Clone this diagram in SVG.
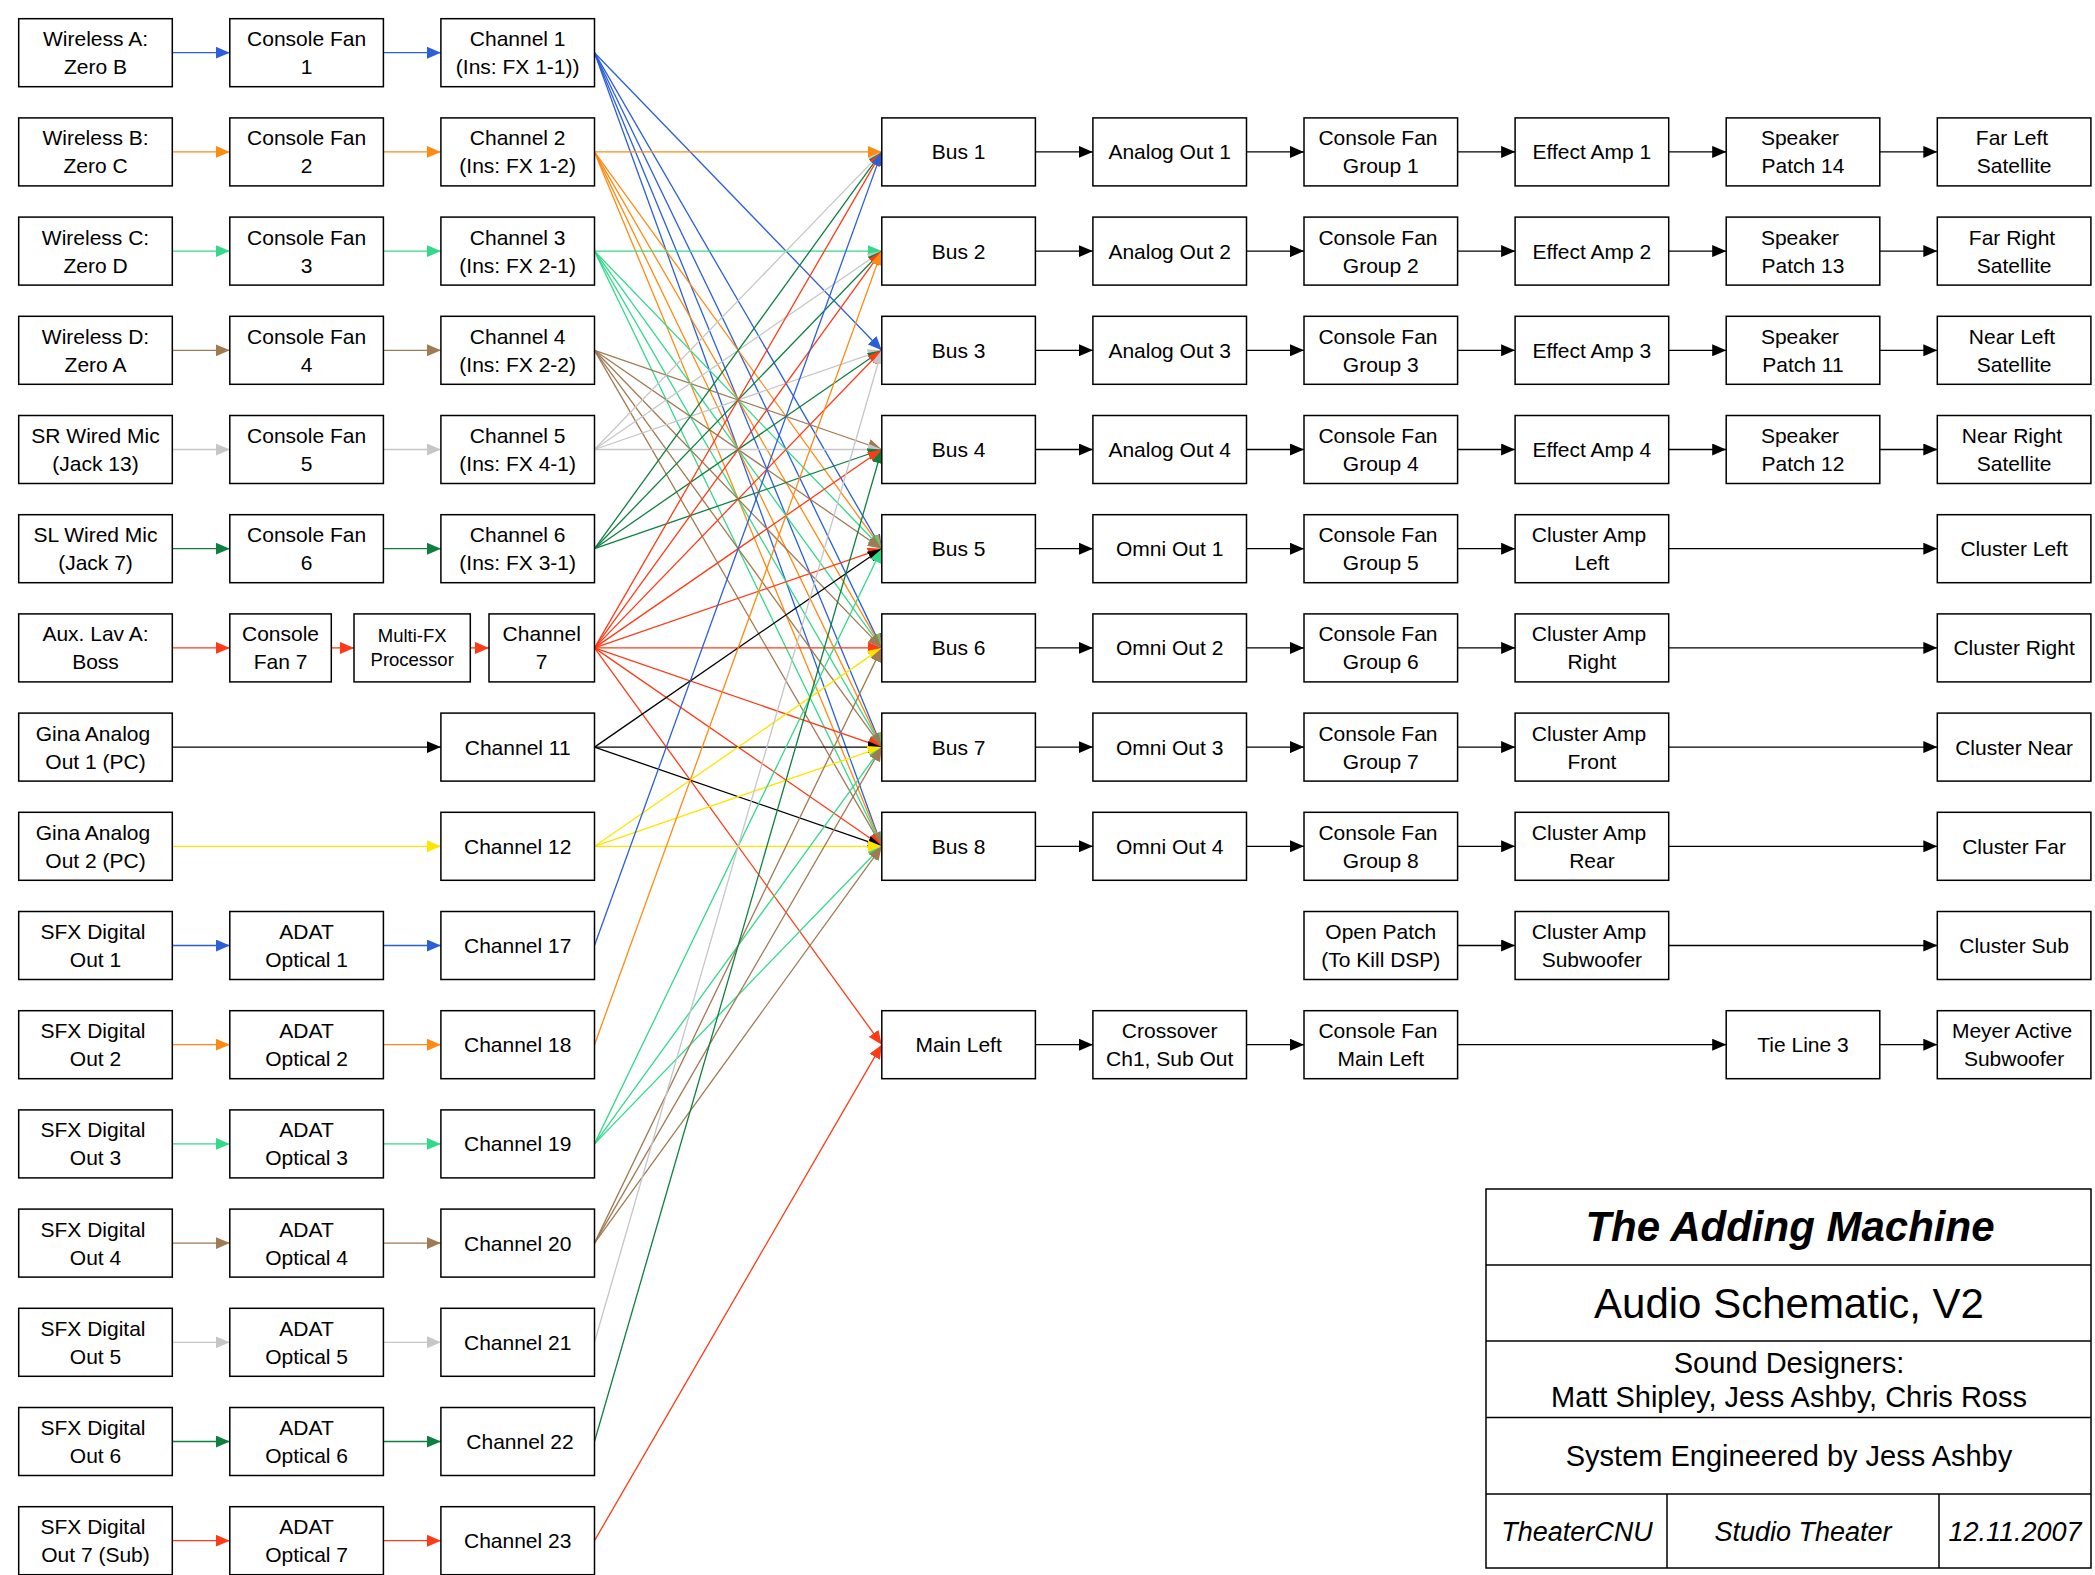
<svg xmlns="http://www.w3.org/2000/svg" width="2095" height="1575" viewBox="0 0 2095 1575">
<style>
.n rect{fill:#fff;stroke:#000;stroke-width:1.5}
.n text{font-family:"Liberation Sans",Arial,sans-serif;font-size:21px;text-anchor:middle;fill:#000}
.n text.s{font-size:18.5px}
.c line{stroke-width:1.3;fill:none}
.bl{stroke:#2B5FD9;marker-end:url(#a-bl)}
.or{stroke:#FF8A12;marker-end:url(#a-or)}
.lg{stroke:#33D98A;marker-end:url(#a-lg)}
.br{stroke:#A07A52;marker-end:url(#a-br)}
.gy{stroke:#C6C6C6;marker-end:url(#a-gy)}
.dg{stroke:#0F7F40;marker-end:url(#a-dg)}
.rd{stroke:#FF3A16;marker-end:url(#a-rd)}
.bk{stroke:#000;marker-end:url(#a-bk)}
.ye{stroke:#FFE400;marker-end:url(#a-ye)}
.tb rect,.tb line{fill:none;stroke:#000;stroke-width:1.5}
.tb text{font-family:"Liberation Sans",Arial,sans-serif;text-anchor:middle;fill:#000}
</style>
<defs>
<marker id="a-bl" markerUnits="userSpaceOnUse" markerWidth="14" markerHeight="12" refX="14" refY="6" orient="auto"><path d="M0,0L14,6L0,12z" fill="#2B5FD9"/></marker>
<marker id="a-or" markerUnits="userSpaceOnUse" markerWidth="14" markerHeight="12" refX="14" refY="6" orient="auto"><path d="M0,0L14,6L0,12z" fill="#FF8A12"/></marker>
<marker id="a-lg" markerUnits="userSpaceOnUse" markerWidth="14" markerHeight="12" refX="14" refY="6" orient="auto"><path d="M0,0L14,6L0,12z" fill="#33D98A"/></marker>
<marker id="a-br" markerUnits="userSpaceOnUse" markerWidth="14" markerHeight="12" refX="14" refY="6" orient="auto"><path d="M0,0L14,6L0,12z" fill="#A07A52"/></marker>
<marker id="a-gy" markerUnits="userSpaceOnUse" markerWidth="14" markerHeight="12" refX="14" refY="6" orient="auto"><path d="M0,0L14,6L0,12z" fill="#C6C6C6"/></marker>
<marker id="a-dg" markerUnits="userSpaceOnUse" markerWidth="14" markerHeight="12" refX="14" refY="6" orient="auto"><path d="M0,0L14,6L0,12z" fill="#0F7F40"/></marker>
<marker id="a-rd" markerUnits="userSpaceOnUse" markerWidth="14" markerHeight="12" refX="14" refY="6" orient="auto"><path d="M0,0L14,6L0,12z" fill="#FF3A16"/></marker>
<marker id="a-bk" markerUnits="userSpaceOnUse" markerWidth="14" markerHeight="12" refX="14" refY="6" orient="auto"><path d="M0,0L14,6L0,12z" fill="#000"/></marker>
<marker id="a-ye" markerUnits="userSpaceOnUse" markerWidth="14" markerHeight="12" refX="14" refY="6" orient="auto"><path d="M0,0L14,6L0,12z" fill="#FFE400"/></marker>
</defs>
<rect width="2095" height="1575" fill="#fff"/>

<g id="connectors" class="c">
<!-- sources to fans -->
<line class="bl" x1="172.3" y1="52.7" x2="229.8" y2="52.7"/>
<line class="bl" x1="383.4" y1="52.7" x2="440.9" y2="52.7"/>
<line class="or" x1="172.3" y1="151.9" x2="229.8" y2="151.9"/>
<line class="or" x1="383.4" y1="151.9" x2="440.9" y2="151.9"/>
<line class="lg" x1="172.3" y1="251.1" x2="229.8" y2="251.1"/>
<line class="lg" x1="383.4" y1="251.1" x2="440.9" y2="251.1"/>
<line class="br" x1="172.3" y1="350.3" x2="229.8" y2="350.3"/>
<line class="br" x1="383.4" y1="350.3" x2="440.9" y2="350.3"/>
<line class="gy" x1="172.3" y1="449.5" x2="229.8" y2="449.5"/>
<line class="gy" x1="383.4" y1="449.5" x2="440.9" y2="449.5"/>
<line class="dg" x1="172.3" y1="548.7" x2="229.8" y2="548.7"/>
<line class="dg" x1="383.4" y1="548.7" x2="440.9" y2="548.7"/>
<line class="rd" x1="172.3" y1="647.9" x2="229.8" y2="647.9"/>
<line class="rd" x1="331.3" y1="647.9" x2="354" y2="647.9"/>
<line class="rd" x1="470.3" y1="647.9" x2="489" y2="647.9"/>
<line class="bk" x1="172.3" y1="747.1" x2="440.9" y2="747.1"/>
<line class="ye" x1="172.3" y1="846.3" x2="440.9" y2="846.3"/>
<line class="bl" x1="172.3" y1="945.5" x2="229.8" y2="945.5"/>
<line class="bl" x1="383.4" y1="945.5" x2="440.9" y2="945.5"/>
<line class="or" x1="172.3" y1="1044.7" x2="229.8" y2="1044.7"/>
<line class="or" x1="383.4" y1="1044.7" x2="440.9" y2="1044.7"/>
<line class="lg" x1="172.3" y1="1143.9" x2="229.8" y2="1143.9"/>
<line class="lg" x1="383.4" y1="1143.9" x2="440.9" y2="1143.9"/>
<line class="br" x1="172.3" y1="1243.1" x2="229.8" y2="1243.1"/>
<line class="br" x1="383.4" y1="1243.1" x2="440.9" y2="1243.1"/>
<line class="gy" x1="172.3" y1="1342.3" x2="229.8" y2="1342.3"/>
<line class="gy" x1="383.4" y1="1342.3" x2="440.9" y2="1342.3"/>
<line class="dg" x1="172.3" y1="1441.5" x2="229.8" y2="1441.5"/>
<line class="dg" x1="383.4" y1="1441.5" x2="440.9" y2="1441.5"/>
<line class="rd" x1="172.3" y1="1540.7" x2="229.8" y2="1540.7"/>
<line class="rd" x1="383.4" y1="1540.7" x2="440.9" y2="1540.7"/>
<!-- channels to buses -->
<line class="bl" x1="594.5" y1="52.7" x2="881.8" y2="350.3"/>
<line class="bl" x1="594.5" y1="52.7" x2="881.8" y2="548.7"/>
<line class="bl" x1="594.5" y1="52.7" x2="881.8" y2="647.9"/>
<line class="bl" x1="594.5" y1="52.7" x2="881.8" y2="747.1"/>
<line class="bl" x1="594.5" y1="52.7" x2="881.8" y2="846.3"/>
<line class="or" x1="594.5" y1="151.9" x2="881.8" y2="151.9"/>
<line class="or" x1="594.5" y1="151.9" x2="881.8" y2="548.7"/>
<line class="or" x1="594.5" y1="151.9" x2="881.8" y2="647.9"/>
<line class="or" x1="594.5" y1="151.9" x2="881.8" y2="747.1"/>
<line class="or" x1="594.5" y1="151.9" x2="881.8" y2="846.3"/>
<line class="lg" x1="594.5" y1="251.1" x2="881.8" y2="251.1"/>
<line class="lg" x1="594.5" y1="251.1" x2="881.8" y2="548.7"/>
<line class="lg" x1="594.5" y1="251.1" x2="881.8" y2="647.9"/>
<line class="lg" x1="594.5" y1="251.1" x2="881.8" y2="747.1"/>
<line class="lg" x1="594.5" y1="251.1" x2="881.8" y2="846.3"/>
<line class="br" x1="594.5" y1="350.3" x2="881.8" y2="449.5"/>
<line class="br" x1="594.5" y1="350.3" x2="881.8" y2="548.7"/>
<line class="br" x1="594.5" y1="350.3" x2="881.8" y2="647.9"/>
<line class="br" x1="594.5" y1="350.3" x2="881.8" y2="747.1"/>
<line class="br" x1="594.5" y1="350.3" x2="881.8" y2="846.3"/>
<line class="gy" x1="594.5" y1="449.5" x2="881.8" y2="151.9"/>
<line class="gy" x1="594.5" y1="449.5" x2="881.8" y2="251.1"/>
<line class="gy" x1="594.5" y1="449.5" x2="881.8" y2="350.3"/>
<line class="gy" x1="594.5" y1="449.5" x2="881.8" y2="449.5"/>
<line class="dg" x1="594.5" y1="548.7" x2="881.8" y2="151.9"/>
<line class="dg" x1="594.5" y1="548.7" x2="881.8" y2="251.1"/>
<line class="dg" x1="594.5" y1="548.7" x2="881.8" y2="350.3"/>
<line class="dg" x1="594.5" y1="548.7" x2="881.8" y2="449.5"/>
<line class="rd" x1="594.5" y1="647.9" x2="881.8" y2="151.9"/>
<line class="rd" x1="594.5" y1="647.9" x2="881.8" y2="251.1"/>
<line class="rd" x1="594.5" y1="647.9" x2="881.8" y2="350.3"/>
<line class="rd" x1="594.5" y1="647.9" x2="881.8" y2="449.5"/>
<line class="rd" x1="594.5" y1="647.9" x2="881.8" y2="548.7"/>
<line class="rd" x1="594.5" y1="647.9" x2="881.8" y2="647.9"/>
<line class="rd" x1="594.5" y1="647.9" x2="881.8" y2="747.1"/>
<line class="rd" x1="594.5" y1="647.9" x2="881.8" y2="846.3"/>
<line class="rd" x1="594.5" y1="647.9" x2="881.8" y2="1044.7"/>
<line class="bk" x1="594.5" y1="747.1" x2="881.8" y2="548.7"/>
<line class="bk" x1="594.5" y1="747.1" x2="881.8" y2="747.1"/>
<line class="bk" x1="594.5" y1="747.1" x2="881.8" y2="846.3"/>
<line class="ye" x1="594.5" y1="846.3" x2="881.8" y2="647.9"/>
<line class="ye" x1="594.5" y1="846.3" x2="881.8" y2="747.1"/>
<line class="ye" x1="594.5" y1="846.3" x2="881.8" y2="846.3"/>
<line class="bl" x1="594.5" y1="945.5" x2="881.8" y2="151.9"/>
<line class="or" x1="594.5" y1="1044.7" x2="881.8" y2="251.1"/>
<line class="lg" x1="594.5" y1="1143.9" x2="881.8" y2="548.7"/>
<line class="lg" x1="594.5" y1="1143.9" x2="881.8" y2="747.1"/>
<line class="lg" x1="594.5" y1="1143.9" x2="881.8" y2="846.3"/>
<line class="br" x1="594.5" y1="1243.1" x2="881.8" y2="647.9"/>
<line class="br" x1="594.5" y1="1243.1" x2="881.8" y2="747.1"/>
<line class="br" x1="594.5" y1="1243.1" x2="881.8" y2="846.3"/>
<line class="gy" x1="594.5" y1="1342.3" x2="881.8" y2="350.3"/>
<line class="dg" x1="594.5" y1="1441.5" x2="881.8" y2="449.5"/>
<line class="rd" x1="594.5" y1="1540.7" x2="881.8" y2="1044.7"/>
<!-- output chains -->
<line class="bk" x1="1035.4" y1="151.9" x2="1092.9" y2="151.9"/>
<line class="bk" x1="1246.5" y1="151.9" x2="1304" y2="151.9"/>
<line class="bk" x1="1457.6" y1="151.9" x2="1515.1" y2="151.9"/>
<line class="bk" x1="1668.7" y1="151.9" x2="1726.2" y2="151.9"/>
<line class="bk" x1="1879.8" y1="151.9" x2="1937.3" y2="151.9"/>
<line class="bk" x1="1035.4" y1="251.1" x2="1092.9" y2="251.1"/>
<line class="bk" x1="1246.5" y1="251.1" x2="1304" y2="251.1"/>
<line class="bk" x1="1457.6" y1="251.1" x2="1515.1" y2="251.1"/>
<line class="bk" x1="1668.7" y1="251.1" x2="1726.2" y2="251.1"/>
<line class="bk" x1="1879.8" y1="251.1" x2="1937.3" y2="251.1"/>
<line class="bk" x1="1035.4" y1="350.3" x2="1092.9" y2="350.3"/>
<line class="bk" x1="1246.5" y1="350.3" x2="1304" y2="350.3"/>
<line class="bk" x1="1457.6" y1="350.3" x2="1515.1" y2="350.3"/>
<line class="bk" x1="1668.7" y1="350.3" x2="1726.2" y2="350.3"/>
<line class="bk" x1="1879.8" y1="350.3" x2="1937.3" y2="350.3"/>
<line class="bk" x1="1035.4" y1="449.5" x2="1092.9" y2="449.5"/>
<line class="bk" x1="1246.5" y1="449.5" x2="1304" y2="449.5"/>
<line class="bk" x1="1457.6" y1="449.5" x2="1515.1" y2="449.5"/>
<line class="bk" x1="1668.7" y1="449.5" x2="1726.2" y2="449.5"/>
<line class="bk" x1="1879.8" y1="449.5" x2="1937.3" y2="449.5"/>
<line class="bk" x1="1035.4" y1="548.7" x2="1092.9" y2="548.7"/>
<line class="bk" x1="1246.5" y1="548.7" x2="1304" y2="548.7"/>
<line class="bk" x1="1457.6" y1="548.7" x2="1515.1" y2="548.7"/>
<line class="bk" x1="1668.7" y1="548.7" x2="1937.3" y2="548.7"/>
<line class="bk" x1="1035.4" y1="647.9" x2="1092.9" y2="647.9"/>
<line class="bk" x1="1246.5" y1="647.9" x2="1304" y2="647.9"/>
<line class="bk" x1="1457.6" y1="647.9" x2="1515.1" y2="647.9"/>
<line class="bk" x1="1668.7" y1="647.9" x2="1937.3" y2="647.9"/>
<line class="bk" x1="1035.4" y1="747.1" x2="1092.9" y2="747.1"/>
<line class="bk" x1="1246.5" y1="747.1" x2="1304" y2="747.1"/>
<line class="bk" x1="1457.6" y1="747.1" x2="1515.1" y2="747.1"/>
<line class="bk" x1="1668.7" y1="747.1" x2="1937.3" y2="747.1"/>
<line class="bk" x1="1035.4" y1="846.3" x2="1092.9" y2="846.3"/>
<line class="bk" x1="1246.5" y1="846.3" x2="1304" y2="846.3"/>
<line class="bk" x1="1457.6" y1="846.3" x2="1515.1" y2="846.3"/>
<line class="bk" x1="1668.7" y1="846.3" x2="1937.3" y2="846.3"/>
<line class="bk" x1="1457.6" y1="945.5" x2="1515.1" y2="945.5"/>
<line class="bk" x1="1668.7" y1="945.5" x2="1937.3" y2="945.5"/>
<line class="bk" x1="1035.4" y1="1044.7" x2="1092.9" y2="1044.7"/>
<line class="bk" x1="1246.5" y1="1044.7" x2="1304" y2="1044.7"/>
<line class="bk" x1="1457.6" y1="1044.7" x2="1726.2" y2="1044.7"/>
<line class="bk" x1="1879.8" y1="1044.7" x2="1937.3" y2="1044.7"/>
</g>

<!-- sources -->
<g id="wireless-a" class="n"><rect x="18.7" y="18.7" width="153.6" height="68"/><text x="95.5" y="46.2">Wireless A:</text><text x="95.5" y="74.2">Zero B</text></g>
<g id="wireless-b" class="n"><rect x="18.7" y="117.9" width="153.6" height="68"/><text x="95.5" y="145.4">Wireless B:</text><text x="95.5" y="173.4">Zero C</text></g>
<g id="wireless-c" class="n"><rect x="18.7" y="217.1" width="153.6" height="68"/><text x="95.5" y="244.6">Wireless C:</text><text x="95.5" y="272.6">Zero D</text></g>
<g id="wireless-d" class="n"><rect x="18.7" y="316.3" width="153.6" height="68"/><text x="95.5" y="343.8">Wireless D:</text><text x="95.5" y="371.8">Zero A</text></g>
<g id="sr-wired" class="n"><rect x="18.7" y="415.5" width="153.6" height="68"/><text x="95.5" y="443">SR Wired Mic</text><text x="95.5" y="471">(Jack 13)</text></g>
<g id="sl-wired" class="n"><rect x="18.7" y="514.7" width="153.6" height="68"/><text x="95.5" y="542.2">SL Wired Mic</text><text x="95.5" y="570.2">(Jack 7)</text></g>
<g id="aux-lav" class="n"><rect x="18.7" y="613.9" width="153.6" height="68"/><text x="95.5" y="641.4">Aux. Lav A:</text><text x="95.5" y="669.4">Boss</text></g>
<g id="gina-1" class="n"><rect x="18.7" y="713.1" width="153.6" height="68"/><text x="93" y="740.6">Gina Analog</text><text x="95.5" y="768.6">Out 1 (PC)</text></g>
<g id="gina-2" class="n"><rect x="18.7" y="812.3" width="153.6" height="68"/><text x="93" y="839.8">Gina Analog</text><text x="95.5" y="867.8">Out 2 (PC)</text></g>
<g id="sfx-1" class="n"><rect x="18.7" y="911.5" width="153.6" height="68"/><text x="93" y="939">SFX Digital</text><text x="95.5" y="967">Out 1</text></g>
<g id="sfx-2" class="n"><rect x="18.7" y="1010.7" width="153.6" height="68"/><text x="93" y="1038.2">SFX Digital</text><text x="95.5" y="1066.2">Out 2</text></g>
<g id="sfx-3" class="n"><rect x="18.7" y="1109.9" width="153.6" height="68"/><text x="93" y="1137.4">SFX Digital</text><text x="95.5" y="1165.4">Out 3</text></g>
<g id="sfx-4" class="n"><rect x="18.7" y="1209.1" width="153.6" height="68"/><text x="93" y="1236.6">SFX Digital</text><text x="95.5" y="1264.6">Out 4</text></g>
<g id="sfx-5" class="n"><rect x="18.7" y="1308.3" width="153.6" height="68"/><text x="93" y="1335.8">SFX Digital</text><text x="95.5" y="1363.8">Out 5</text></g>
<g id="sfx-6" class="n"><rect x="18.7" y="1407.5" width="153.6" height="68"/><text x="93" y="1435">SFX Digital</text><text x="95.5" y="1463">Out 6</text></g>
<g id="sfx-7" class="n"><rect x="18.7" y="1506.7" width="153.6" height="68"/><text x="93" y="1534.2">SFX Digital</text><text x="95.5" y="1562.2">Out 7 (Sub)</text></g>

<!-- console fans / ADAT -->
<g id="cf-1" class="n"><rect x="229.8" y="18.7" width="153.6" height="68"/><text x="306.6" y="46.2">Console Fan</text><text x="306.6" y="74.2">1</text></g>
<g id="cf-2" class="n"><rect x="229.8" y="117.9" width="153.6" height="68"/><text x="306.6" y="145.4">Console Fan</text><text x="306.6" y="173.4">2</text></g>
<g id="cf-3" class="n"><rect x="229.8" y="217.1" width="153.6" height="68"/><text x="306.6" y="244.6">Console Fan</text><text x="306.6" y="272.6">3</text></g>
<g id="cf-4" class="n"><rect x="229.8" y="316.3" width="153.6" height="68"/><text x="306.6" y="343.8">Console Fan</text><text x="306.6" y="371.8">4</text></g>
<g id="cf-5" class="n"><rect x="229.8" y="415.5" width="153.6" height="68"/><text x="306.6" y="443">Console Fan</text><text x="306.6" y="471">5</text></g>
<g id="cf-6" class="n"><rect x="229.8" y="514.7" width="153.6" height="68"/><text x="306.6" y="542.2">Console Fan</text><text x="306.6" y="570.2">6</text></g>
<g id="cf-7" class="n"><rect x="229.8" y="613.9" width="101.5" height="68"/><text x="280.5" y="641.4">Console</text><text x="280.5" y="669.4">Fan 7</text></g>
<g id="multi-fx" class="n"><rect x="354" y="613.9" width="116.3" height="68"/><text class="s" x="412.2" y="642">Multi-FX</text><text class="s" x="412.2" y="665.5">Processor</text></g>
<g id="adat-1" class="n"><rect x="229.8" y="911.5" width="153.6" height="68"/><text x="306.6" y="939">ADAT</text><text x="306.6" y="967">Optical 1</text></g>
<g id="adat-2" class="n"><rect x="229.8" y="1010.7" width="153.6" height="68"/><text x="306.6" y="1038.2">ADAT</text><text x="306.6" y="1066.2">Optical 2</text></g>
<g id="adat-3" class="n"><rect x="229.8" y="1109.9" width="153.6" height="68"/><text x="306.6" y="1137.4">ADAT</text><text x="306.6" y="1165.4">Optical 3</text></g>
<g id="adat-4" class="n"><rect x="229.8" y="1209.1" width="153.6" height="68"/><text x="306.6" y="1236.6">ADAT</text><text x="306.6" y="1264.6">Optical 4</text></g>
<g id="adat-5" class="n"><rect x="229.8" y="1308.3" width="153.6" height="68"/><text x="306.6" y="1335.8">ADAT</text><text x="306.6" y="1363.8">Optical 5</text></g>
<g id="adat-6" class="n"><rect x="229.8" y="1407.5" width="153.6" height="68"/><text x="306.6" y="1435">ADAT</text><text x="306.6" y="1463">Optical 6</text></g>
<g id="adat-7" class="n"><rect x="229.8" y="1506.7" width="153.6" height="68"/><text x="306.6" y="1534.2">ADAT</text><text x="306.6" y="1562.2">Optical 7</text></g>

<!-- channels -->
<g id="ch-1" class="n"><rect x="440.9" y="18.7" width="153.6" height="68"/><text x="517.7" y="46.2">Channel 1</text><text x="517.7" y="74.2">(Ins: FX 1-1))</text></g>
<g id="ch-2" class="n"><rect x="440.9" y="117.9" width="153.6" height="68"/><text x="517.7" y="145.4">Channel 2</text><text x="517.7" y="173.4">(Ins: FX 1-2)</text></g>
<g id="ch-3" class="n"><rect x="440.9" y="217.1" width="153.6" height="68"/><text x="517.7" y="244.6">Channel 3</text><text x="517.7" y="272.6">(Ins: FX 2-1)</text></g>
<g id="ch-4" class="n"><rect x="440.9" y="316.3" width="153.6" height="68"/><text x="517.7" y="343.8">Channel 4</text><text x="517.7" y="371.8">(Ins: FX 2-2)</text></g>
<g id="ch-5" class="n"><rect x="440.9" y="415.5" width="153.6" height="68"/><text x="517.7" y="443">Channel 5</text><text x="517.7" y="471">(Ins: FX 4-1)</text></g>
<g id="ch-6" class="n"><rect x="440.9" y="514.7" width="153.6" height="68"/><text x="517.7" y="542.2">Channel 6</text><text x="517.7" y="570.2">(Ins: FX 3-1)</text></g>
<g id="ch-7" class="n"><rect x="489" y="613.9" width="105.5" height="68"/><text x="541.7" y="641.4">Channel</text><text x="541.7" y="669.4">7</text></g>
<g id="ch-11" class="n"><rect x="440.9" y="713.1" width="153.6" height="68"/><text x="517.7" y="754.6">Channel 11</text></g>
<g id="ch-12" class="n"><rect x="440.9" y="812.3" width="153.6" height="68"/><text x="517.7" y="853.8">Channel 12</text></g>
<g id="ch-17" class="n"><rect x="440.9" y="911.5" width="153.6" height="68"/><text x="517.7" y="953">Channel 17</text></g>
<g id="ch-18" class="n"><rect x="440.9" y="1010.7" width="153.6" height="68"/><text x="517.7" y="1052.2">Channel 18</text></g>
<g id="ch-19" class="n"><rect x="440.9" y="1109.9" width="153.6" height="68"/><text x="517.7" y="1151.4">Channel 19</text></g>
<g id="ch-20" class="n"><rect x="440.9" y="1209.1" width="153.6" height="68"/><text x="517.7" y="1250.6">Channel 20</text></g>
<g id="ch-21" class="n"><rect x="440.9" y="1308.3" width="153.6" height="68"/><text x="517.7" y="1349.8">Channel 21</text></g>
<g id="ch-22" class="n"><rect x="440.9" y="1407.5" width="153.6" height="68"/><text x="520" y="1449">Channel 22</text></g>
<g id="ch-23" class="n"><rect x="440.9" y="1506.7" width="153.6" height="68"/><text x="517.7" y="1548.2">Channel 23</text></g>

<!-- buses -->
<g id="bus-1" class="n"><rect x="881.8" y="117.9" width="153.6" height="68"/><text x="958.6" y="159.4">Bus 1</text></g>
<g id="bus-2" class="n"><rect x="881.8" y="217.1" width="153.6" height="68"/><text x="958.6" y="258.6">Bus 2</text></g>
<g id="bus-3" class="n"><rect x="881.8" y="316.3" width="153.6" height="68"/><text x="958.6" y="357.8">Bus 3</text></g>
<g id="bus-4" class="n"><rect x="881.8" y="415.5" width="153.6" height="68"/><text x="958.6" y="457">Bus 4</text></g>
<g id="bus-5" class="n"><rect x="881.8" y="514.7" width="153.6" height="68"/><text x="958.6" y="556.2">Bus 5</text></g>
<g id="bus-6" class="n"><rect x="881.8" y="613.9" width="153.6" height="68"/><text x="958.6" y="655.4">Bus 6</text></g>
<g id="bus-7" class="n"><rect x="881.8" y="713.1" width="153.6" height="68"/><text x="958.6" y="754.6">Bus 7</text></g>
<g id="bus-8" class="n"><rect x="881.8" y="812.3" width="153.6" height="68"/><text x="958.6" y="853.8">Bus 8</text></g>
<g id="main-left" class="n"><rect x="881.8" y="1010.7" width="153.6" height="68"/><text x="958.6" y="1052.2">Main Left</text></g>

<!-- outputs -->
<g id="aout-1" class="n"><rect x="1092.9" y="117.9" width="153.6" height="68"/><text x="1169.7" y="159.4">Analog Out 1</text></g>
<g id="aout-2" class="n"><rect x="1092.9" y="217.1" width="153.6" height="68"/><text x="1169.7" y="258.6">Analog Out 2</text></g>
<g id="aout-3" class="n"><rect x="1092.9" y="316.3" width="153.6" height="68"/><text x="1169.7" y="357.8">Analog Out 3</text></g>
<g id="aout-4" class="n"><rect x="1092.9" y="415.5" width="153.6" height="68"/><text x="1169.7" y="457">Analog Out 4</text></g>
<g id="omni-1" class="n"><rect x="1092.9" y="514.7" width="153.6" height="68"/><text x="1169.7" y="556.2">Omni Out 1</text></g>
<g id="omni-2" class="n"><rect x="1092.9" y="613.9" width="153.6" height="68"/><text x="1169.7" y="655.4">Omni Out 2</text></g>
<g id="omni-3" class="n"><rect x="1092.9" y="713.1" width="153.6" height="68"/><text x="1169.7" y="754.6">Omni Out 3</text></g>
<g id="omni-4" class="n"><rect x="1092.9" y="812.3" width="153.6" height="68"/><text x="1169.7" y="853.8">Omni Out 4</text></g>
<g id="crossover" class="n"><rect x="1092.9" y="1010.7" width="153.6" height="68"/><text x="1169.7" y="1038.2">Crossover</text><text x="1169.7" y="1066.2">Ch1, Sub Out</text></g>

<!-- console fan groups -->
<g id="cfg-1" class="n"><rect x="1304" y="117.9" width="153.6" height="68"/><text x="1378" y="145.4">Console Fan</text><text x="1380.8" y="173.4">Group 1</text></g>
<g id="cfg-2" class="n"><rect x="1304" y="217.1" width="153.6" height="68"/><text x="1378" y="244.6">Console Fan</text><text x="1380.8" y="272.6">Group 2</text></g>
<g id="cfg-3" class="n"><rect x="1304" y="316.3" width="153.6" height="68"/><text x="1378" y="343.8">Console Fan</text><text x="1380.8" y="371.8">Group 3</text></g>
<g id="cfg-4" class="n"><rect x="1304" y="415.5" width="153.6" height="68"/><text x="1378" y="443">Console Fan</text><text x="1380.8" y="471">Group 4</text></g>
<g id="cfg-5" class="n"><rect x="1304" y="514.7" width="153.6" height="68"/><text x="1378" y="542.2">Console Fan</text><text x="1380.8" y="570.2">Group 5</text></g>
<g id="cfg-6" class="n"><rect x="1304" y="613.9" width="153.6" height="68"/><text x="1378" y="641.4">Console Fan</text><text x="1380.8" y="669.4">Group 6</text></g>
<g id="cfg-7" class="n"><rect x="1304" y="713.1" width="153.6" height="68"/><text x="1378" y="740.6">Console Fan</text><text x="1380.8" y="768.6">Group 7</text></g>
<g id="cfg-8" class="n"><rect x="1304" y="812.3" width="153.6" height="68"/><text x="1378" y="839.8">Console Fan</text><text x="1380.8" y="867.8">Group 8</text></g>
<g id="open-patch" class="n"><rect x="1304" y="911.5" width="153.6" height="68"/><text x="1380.8" y="939">Open Patch</text><text x="1380.8" y="967">(To Kill DSP)</text></g>
<g id="cf-main-left" class="n"><rect x="1304" y="1010.7" width="153.6" height="68"/><text x="1378" y="1038.2">Console Fan</text><text x="1380.8" y="1066.2">Main Left</text></g>

<!-- amps -->
<g id="amp-1" class="n"><rect x="1515.1" y="117.9" width="153.6" height="68"/><text x="1591.9" y="159.4">Effect Amp 1</text></g>
<g id="amp-2" class="n"><rect x="1515.1" y="217.1" width="153.6" height="68"/><text x="1591.9" y="258.6">Effect Amp 2</text></g>
<g id="amp-3" class="n"><rect x="1515.1" y="316.3" width="153.6" height="68"/><text x="1591.9" y="357.8">Effect Amp 3</text></g>
<g id="amp-4" class="n"><rect x="1515.1" y="415.5" width="153.6" height="68"/><text x="1591.9" y="457">Effect Amp 4</text></g>
<g id="camp-left" class="n"><rect x="1515.1" y="514.7" width="153.6" height="68"/><text x="1589" y="542.2">Cluster Amp</text><text x="1591.9" y="570.2">Left</text></g>
<g id="camp-right" class="n"><rect x="1515.1" y="613.9" width="153.6" height="68"/><text x="1589" y="641.4">Cluster Amp</text><text x="1591.9" y="669.4">Right</text></g>
<g id="camp-front" class="n"><rect x="1515.1" y="713.1" width="153.6" height="68"/><text x="1589" y="740.6">Cluster Amp</text><text x="1591.9" y="768.6">Front</text></g>
<g id="camp-rear" class="n"><rect x="1515.1" y="812.3" width="153.6" height="68"/><text x="1589" y="839.8">Cluster Amp</text><text x="1591.9" y="867.8">Rear</text></g>
<g id="camp-sub" class="n"><rect x="1515.1" y="911.5" width="153.6" height="68"/><text x="1589" y="939">Cluster Amp</text><text x="1591.9" y="967">Subwoofer</text></g>

<!-- speaker patches -->
<g id="sp-14" class="n"><rect x="1726.2" y="117.9" width="153.6" height="68"/><text x="1800" y="145.4">Speaker</text><text x="1803" y="173.4">Patch 14</text></g>
<g id="sp-13" class="n"><rect x="1726.2" y="217.1" width="153.6" height="68"/><text x="1800" y="244.6">Speaker</text><text x="1803" y="272.6">Patch 13</text></g>
<g id="sp-11" class="n"><rect x="1726.2" y="316.3" width="153.6" height="68"/><text x="1800" y="343.8">Speaker</text><text x="1803" y="371.8">Patch 11</text></g>
<g id="sp-12" class="n"><rect x="1726.2" y="415.5" width="153.6" height="68"/><text x="1800" y="443">Speaker</text><text x="1803" y="471">Patch 12</text></g>
<g id="tie-line-3" class="n"><rect x="1726.2" y="1010.7" width="153.6" height="68"/><text x="1803" y="1052.2">Tie Line 3</text></g>

<!-- speakers -->
<g id="far-left" class="n"><rect x="1937.3" y="117.9" width="153.6" height="68"/><text x="2012" y="145.4">Far Left</text><text x="2014.1" y="173.4">Satellite</text></g>
<g id="far-right" class="n"><rect x="1937.3" y="217.1" width="153.6" height="68"/><text x="2012" y="244.6">Far Right</text><text x="2014.1" y="272.6">Satellite</text></g>
<g id="near-left" class="n"><rect x="1937.3" y="316.3" width="153.6" height="68"/><text x="2012" y="343.8">Near Left</text><text x="2014.1" y="371.8">Satellite</text></g>
<g id="near-right" class="n"><rect x="1937.3" y="415.5" width="153.6" height="68"/><text x="2012" y="443">Near Right</text><text x="2014.1" y="471">Satellite</text></g>
<g id="cluster-left" class="n"><rect x="1937.3" y="514.7" width="153.6" height="68"/><text x="2014.1" y="556.2">Cluster Left</text></g>
<g id="cluster-right" class="n"><rect x="1937.3" y="613.9" width="153.6" height="68"/><text x="2014.1" y="655.4">Cluster Right</text></g>
<g id="cluster-near" class="n"><rect x="1937.3" y="713.1" width="153.6" height="68"/><text x="2014.1" y="754.6">Cluster Near</text></g>
<g id="cluster-far" class="n"><rect x="1937.3" y="812.3" width="153.6" height="68"/><text x="2014.1" y="853.8">Cluster Far</text></g>
<g id="cluster-sub" class="n"><rect x="1937.3" y="911.5" width="153.6" height="68"/><text x="2014.1" y="953">Cluster Sub</text></g>
<g id="meyer-sub" class="n"><rect x="1937.3" y="1010.7" width="153.6" height="68"/><text x="2012" y="1038.2">Meyer Active</text><text x="2014.1" y="1066.2">Subwoofer</text></g>

<!-- title block -->
<g id="title-block" class="tb">
<rect x="1486" y="1189" width="605" height="379"/>
<line x1="1486" y1="1265" x2="2091" y2="1265"/>
<line x1="1486" y1="1341" x2="2091" y2="1341"/>
<line x1="1486" y1="1417.5" x2="2091" y2="1417.5"/>
<line x1="1486" y1="1494" x2="2091" y2="1494"/>
<line x1="1667" y1="1494" x2="1667" y2="1568"/>
<line x1="1939" y1="1494" x2="1939" y2="1568"/>
<text x="1790" y="1241" style="font-size:42px;font-weight:bold;font-style:italic">The Adding Machine</text>
<text x="1789" y="1318" style="font-size:42px">Audio Schematic, V2</text>
<text x="1789" y="1373" style="font-size:29px">Sound Designers:</text>
<text x="1789" y="1407" style="font-size:29px">Matt Shipley, Jess Ashby, Chris Ross</text>
<text x="1789" y="1466" style="font-size:29px">System Engineered by Jess Ashby</text>
<text x="1577" y="1541" style="font-size:27px;font-style:italic">TheaterCNU</text>
<text x="1803" y="1541" style="font-size:27px;font-style:italic">Studio Theater</text>
<text x="2015" y="1541" style="font-size:27px;font-style:italic">12.11.2007</text>
</g>
</svg>
